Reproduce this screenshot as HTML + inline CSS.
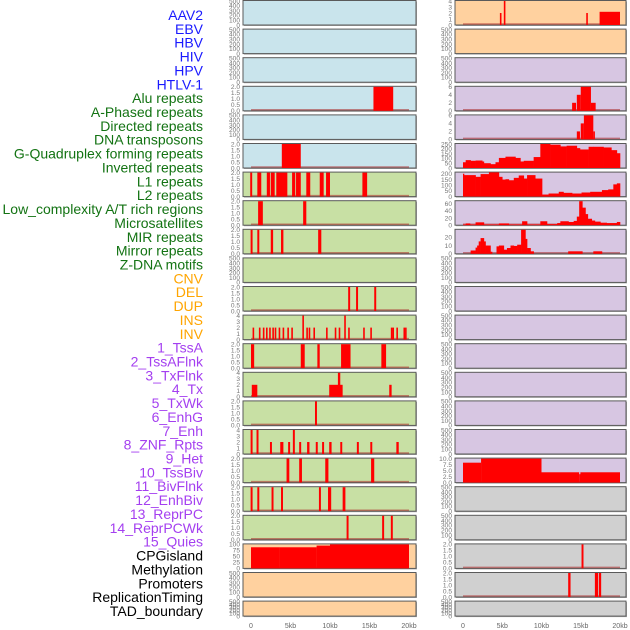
<!DOCTYPE html>
<html><head><meta charset="utf-8">
<style>
html,body{margin:0;padding:0;background:#fff;width:630px;height:630px;overflow:hidden}
svg{display:block}
</style></head>
<body>
<svg id="chart" width="630" height="630" xmlns="http://www.w3.org/2000/svg"></svg>
<script>
// ---- labels ----
const trackLabels = ["AAV2","EBV","HBV","HIV","HPV","HTLV-1","Alu repeats","A-Phased repeats","Directed repeats","DNA transposons","G-Quadruplex forming repeats","Inverted repeats","L1 repeats","L2 repeats","Low_complexity A/T rich regions","Microsatellites","MIR repeats","Mirror repeats","Z-DNA motifs","CNV","DEL","DUP","INS","INV","1_TssA","2_TssAFlnk","3_TxFlnk","4_Tx","5_TxWk","6_EnhG","7_Enh","8_ZNF_Rpts","9_Het","10_TssBiv","11_BivFlnk","12_EnhBiv","13_ReprPC","14_ReprPCWk","15_Quies","CPGisland","Methylation","Promoters","ReplicationTiming","TAD_boundary"];
const labelGroups = [6,13,5,15,5];
const groupColors = ["#1a1aff","#137313","#ffa500","#a43ff0","#000000"];
const xTicks = [0,5,10,15,20];
const xTickLabels = ["0","5kb","10kb","15kb","20kb"];

// ---- left column bars [startKb, endKb, value] ----
const L3 = [[15.5,18,2]];
const L5 = [[3.9,6.3,2]];
const L6 = [[-0.1,0.15,2],[0.8,1.3,2],[2,2.4,2],[2.5,3,2],[3.2,4.6,2],[5.2,5.6,2],[5.7,6.3,2],[7,7.5,2],[8.7,9.2,2],[9.5,10,2],[14.1,14.7,2]];
const L7 = [[0.9,1.5,2],[6.6,7.0,2]];
const L8 = [[-0.05,0.2,2],[0.8,1.05,2],[2.5,2.8,2],[3.8,4.1,2],[8.5,8.9,2]];
const L10 = [[12.3,12.55,2],[13.3,13.55,2],[15.6,15.85,2]];
const L11 = [[0.2,0.4,2],[1.0,1.2,2],[1.5,1.7,2],[1.9,2.1,2],[2.3,2.5,2],[2.7,2.9,2],[3.0,3.2,2],[3.5,3.7,2],[4.0,4.2,2],[4.6,4.8,2],[5.1,5.3,2],[6.5,6.7,4],[7.0,7.2,2],[7.3,7.5,2],[7.9,8.1,2],[9.5,9.7,2],[10.6,10.8,2],[11.1,11.3,2],[11.8,12.0,4],[12.3,12.5,2],[14.2,14.4,2],[15.1,15.3,2],[17.7,17.9,2],[17.9,18.1,2],[18.4,18.6,2],[19.3,19.5,2],[19.5,19.7,2]];
const L12 = [[0,0.4,2],[6.3,6.8,2],[8.4,8.7,2],[11.4,12.6,2],[16.5,17.1,2]];
const L13 = [[0.1,0.8,2],[9.9,11.6,2],[11.0,11.3,4],[17.5,17.8,2]];
const L14 = [[8.1,8.35,2]];
const L15 = [[-0.05,0.2,4],[0.7,0.95,4],[2.4,2.65,2],[3.7,4.1,2],[4.7,4.95,2],[5.3,5.55,4],[6.1,6.35,2],[7.1,7.4,2],[8.2,8.45,2],[9.0,9.25,2],[9.9,10.2,2],[11.3,11.55,2],[13.4,13.65,2],[15.1,15.35,2],[18.4,18.7,2]];
const L16 = [[4.5,4.85,2],[6.1,6.45,2],[9.4,9.8,2],[15.2,15.6,2]];
const L17 = [[-0.05,0.2,2],[0.8,1.05,2],[2.6,2.85,2],[3.8,4.05,2],[8.6,8.85,2],[9.75,10.15,2],[11.6,11.95,2]];
const L18 = [[12.1,12.35,2],[16.6,16.85,2],[17.7,17.95,2]];
const L19 = [[0,3.6,88],[3.6,8.3,88],[8.3,10,95],[10,20,100]];

// ---- right column bars ----
const R0 = [[4.7,4.9,2],[5.2,5.4,4],[15.7,15.9,2],[17.4,20,2.2]];
const R3 = [[13.9,14.4,2],[14.5,15.0,4],[15.0,16.3,6],[16.3,16.9,2]];
const R4 = [[14.5,14.9,2],[15.0,15.4,4],[15.4,16.6,6],[16.6,16.8,2]];
const R16 = [[0,2.3,8.3],[2.3,10,10],[10,14.8,4.3],[14.8,14.95,3.5],[14.95,20,4.3]];
const R19 = [[15.1,15.35,2]];
const R20 = [[13.4,13.7,2],[16.8,17.2,2],[17.3,17.6,2]];

// ---- right column step series: breakpoints (kb) + values ----
const R5Breaks = [0,0.34,0.97,1.6,2.45,2.66,3.5,4.14,4.57,5.41,6.68,7.31,7.74,9.0,9.85,11.1,12.4,13.2,14.5,14.9,16.0,16.6,17.9,18.9,19.6,20];
const R5Values = [60,82,75,78,68,50,40,60,105,118,105,68,75,114,250,243,225,232,207,193,221,221,214,186,154];
const R6Breaks = [0,0.13,0.55,1.6,2.24,3.3,4.57,5.0,5.41,5.84,6.47,7.1,7.74,8.16,9.2,10.07,10.9,12.2,12.8,13.9,15.1,16.2,17.7,18.5,19.15,19.6,20];
const R6Values = [200,188,188,173,197,212,173,149,152,143,164,185,158,188,158,18,27,42,33,27,36,42,57,63,107,116];
const R7Breaks = [0,0.34,0.89,1.6,2.66,4.57,5.84,7.53,8.16,9.85,10.7,12.0,12.4,13.44,14.1,14.5,14.8,15.2,15.6,15.9,16.4,16.8,17.5,18.3,19.6,20];
const R7Values = [2,5,2,8,2,5,2,11,2,11,3,6,11,9,12,24,67,49,31,18,13,10,7,6,9];
const R8Breaks = [0,0.97,1.6,1.8,2.0,2.24,2.66,2.87,3.1,3.5,3.7,4.27,4.57,5.2,5.6,6.05,6.47,6.9,7.4,7.95,8.16,8.6,9.0,13.4,15.2,16.6,17.7,20];
const R8Values = [0,4,7.5,10,15,19,15,10,10,2.5,0,9,10,5,7,10,9.5,11,29,18,7,3,0,3,0,3,0];

// ---- panel specs: [data, ymax, ticks, labelFormat, bg] ----
const BLUE="#c9e4ec",GREEN="#c8e0a4",ORANGE="#ffd19f",PURPLE="#d7c6e2",GREY="#d0d0d0";
const T500=[0,100,200,300,400,500], T2=[0,0.5,1,1.5,2], T4=[0,1,2,3,4], T6=[0,2,4,6];
const leftPanels = [
 [null,500,T500,0,BLUE],[null,500,T500,0,BLUE],[null,500,T500,0,BLUE],[L3,2,T2,1,BLUE],[null,500,T500,0,BLUE],[L5,2,T2,1,BLUE],
 [L6,2,T2,1,GREEN],[L7,2,T2,1,GREEN],[L8,2,T2,1,GREEN],[null,500,T500,0,GREEN],[L10,2,T2,1,GREEN],[L11,4,T4,0,GREEN],
 [L12,2,T2,1,GREEN],[L13,4,T4,0,GREEN],[L14,2,T2,1,GREEN],[L15,4,T4,0,GREEN],[L16,2,T2,1,GREEN],[L17,2,T2,1,GREEN],[L18,2,T2,1,GREEN],
 [L19,100,[0,25,50,75,100],0,ORANGE],[null,500,T500,0,ORANGE],[null,500,T500,0,ORANGE]
];
const rightPanels = [
 [R0,4,T4,0,ORANGE],[null,500,T500,0,ORANGE],[null,500,T500,0,PURPLE],[R3,6,T6,0,PURPLE],[R4,6,T6,0,PURPLE],
 [[R5Breaks,R5Values],250,[0,50,100,150,200,250],0,PURPLE],[[R6Breaks,R6Values],210,[0,50,100,150,200],0,PURPLE],
 [[R7Breaks,R7Values],67,[0,20,40,60],0,PURPLE],[[R8Breaks,R8Values],29,[0,10,20],0,PURPLE],
 [null,500,T500,0,PURPLE],[null,500,T500,0,PURPLE],[null,500,T500,0,PURPLE],[null,500,T500,0,PURPLE],[null,500,T500,0,PURPLE],[null,500,T500,0,PURPLE],[null,500,T500,0,PURPLE],
 [R16,10,[0,2.5,5,7.5,10],1,PURPLE],[null,500,T500,0,GREY],[null,500,T500,0,GREY],[R19,2,T2,1,GREY],[R20,2,T2,1,GREY],[null,500,T500,0,GREY]
];

const NS="http://www.w3.org/2000/svg";
const svg=document.getElementById('chart');
function mk(tag,attrs,parent){const e=document.createElementNS(NS,tag);for(const k in attrs)e.setAttribute(k,attrs[k]);(parent||svg).appendChild(e);return e;}

// labels
let li=0;
labelGroups.forEach((n,g)=>{for(let j=0;j<n;j++){
  const t=mk('text',{x:203,y:15+li*13.86+5,'text-anchor':'end','font-family':'Liberation Sans, sans-serif','font-size':'14',fill:groupColors[g]});
  t.textContent=trackLabels[li];
  
  
  li++;}});

function rowTop(i){return i*28.6+0.5;}
function rowH(i){return i===21?15:24.5;}

function drawColumn(panels,x0,x1,xz,xs,side){
  const xScale=kb=>xz+kb*xs;
  panels.forEach((p,i)=>{
    const [data,ymax,ticks,dec,bg]=p;
    const top=rowTop(i),h=rowH(i);
    const g=mk('g',{});
    
    
    mk('rect',{x:x0+1,y:top+1,width:x1-x0,height:h,fill:'#a9a9a9'},g);
    mk('rect',{x:x0,y:top,width:x1-x0,height:h,fill:bg,stroke:'#5a5a5a','stroke-width':1},g);
    const yScale=v=>top+h-(v/ymax)*(h-0.5);
    ticks.forEach(tv=>{
      const t=mk('text',{x:x0-3,y:yScale(tv)+2.3,'text-anchor':'end','font-family':'Liberation Sans, sans-serif','font-size':'6.6',fill:'#777'},g);
      t.textContent=dec?tv.toFixed(1):String(tv);
      
      
    });
    if(!data)return;
    mk('line',{x1:xScale(0),x2:xScale(20),y1:top+h-1,y2:top+h-1,stroke:'rgba(170,40,40,0.55)','stroke-width':1.5},g);
    if(data.length===2&&Array.isArray(data[0])&&data[0].length!==3){
      const [br,vals]=data;
      for(let k=0;k<vals.length;k++){
        if(vals[k]<=0)continue;
        const r=mk('rect',{x:xScale(br[k]),y:yScale(vals[k]),width:xScale(br[k+1])-xScale(br[k])+0.3,height:top+h-yScale(vals[k]),fill:'#ff0000'},g);
        
        
      }
    } else {
      data.forEach(b=>{
        const w=Math.max(1.6,xScale(b[1])-xScale(b[0]));
        const r=mk('rect',{x:xScale(b[0]),y:yScale(b[2]),width:w,height:top+h-yScale(b[2]),fill:'#ff0000'},g);
        
        
      });
    }
  });
  xTicks.forEach((kb,k)=>{
    const t=mk('text',{x:xScale(kb),y:628,'text-anchor':'middle','font-family':'Liberation Sans, sans-serif','font-size':'7',fill:'#666'});
    t.textContent=xTickLabels[k];
    
    
  });
}
drawColumn(leftPanels,243,416,251,7.9,'left');
drawColumn(rightPanels,455,626,463,7.85,'right');
</script>
</body></html>
